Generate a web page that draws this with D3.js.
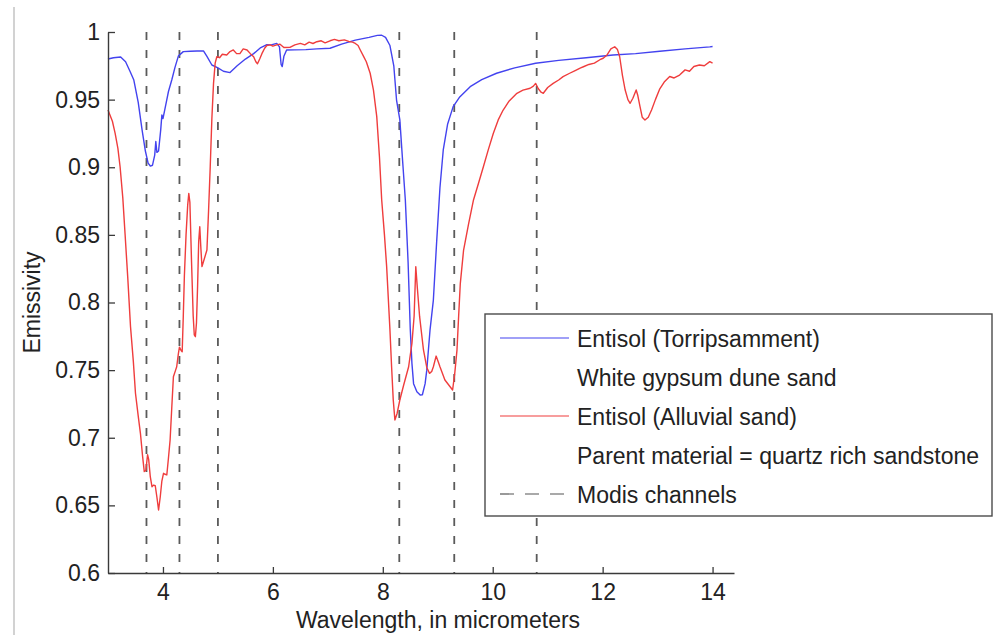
<!DOCTYPE html>
<html>
<head>
<meta charset="utf-8">
<script src="https://cdn.jsdelivr.net/npm/d3@7"></script>
<style>
  html, body { margin: 0; padding: 0; background: #fff; }
  svg { display: block; font-family: "Liberation Sans", Arial, Helvetica, sans-serif; }
</style>
</head>
<body>
<svg id="chart" width="994" height="635"></svg>
<script>
// Emissivity spectra of two Entisol sand samples, with MODIS channel positions.

// Entisol (Torripsamment), white gypsum dune sand
const torriWave = [3.00,3.10,3.23,3.32,3.40,3.47,3.55,3.62,3.68,3.73,3.77,3.81,3.85,3.87,3.89,3.92,3.96,3.98,4.00,4.05,4.10,4.16,4.22,4.28,4.37,4.50,4.62,4.74,4.80,4.89,5.00,5.10,5.22,5.35,5.50,5.65,5.78,5.89,5.97,6.07,6.12,6.15,6.17,6.20,6.25,6.40,6.60,6.80,7.04,7.25,7.50,7.75,7.90,7.98,8.05,8.13,8.20,8.25,8.31,8.36,8.41,8.46,8.50,8.53,8.56,8.62,8.68,8.72,8.77,8.80,8.86,8.92,8.98,9.04,9.10,9.18,9.28,9.40,9.59,9.80,10.07,10.40,10.78,11.20,11.70,12.19,12.60,13.04,13.50,13.95,14.00];
const torriEmis = [0.980,0.981,0.9815,0.978,0.971,0.9645,0.948,0.9276,0.912,0.903,0.9009,0.9015,0.909,0.919,0.911,0.912,0.928,0.9386,0.936,0.946,0.956,0.9645,0.974,0.9822,0.9855,0.9858,0.986,0.9859,0.982,0.9756,0.9735,0.971,0.9700,0.975,0.980,0.984,0.9885,0.9906,0.9905,0.9916,0.989,0.976,0.9744,0.982,0.9867,0.9868,0.987,0.9875,0.988,0.991,0.994,0.996,0.9975,0.9976,0.996,0.990,0.975,0.9497,0.935,0.905,0.8758,0.83,0.78,0.755,0.740,0.734,0.7316,0.7318,0.740,0.750,0.78,0.8018,0.845,0.885,0.9128,0.932,0.9448,0.952,0.9596,0.9648,0.9695,0.9735,0.9769,0.979,0.981,0.983,0.984,0.9858,0.9875,0.989,0.9893];

// Entisol (Alluvial sand), parent material = quartz rich sandstone
const alluvWave = [3.00,3.08,3.13,3.18,3.22,3.27,3.31,3.36,3.41,3.46,3.50,3.55,3.59,3.63,3.66,3.69,3.72,3.74,3.77,3.80,3.83,3.86,3.89,3.92,3.95,3.98,4.01,4.04,4.07,4.10,4.13,4.16,4.19,4.23,4.25,4.28,4.30,4.33,4.35,4.37,4.39,4.42,4.45,4.47,4.49,4.52,4.55,4.57,4.59,4.61,4.63,4.65,4.67,4.69,4.71,4.75,4.80,4.83,4.86,4.89,4.92,4.95,4.98,5.03,5.08,5.16,5.22,5.28,5.34,5.40,5.46,5.53,5.59,5.65,5.69,5.72,5.76,5.80,5.85,5.89,5.95,6.00,6.07,6.13,6.20,6.31,6.40,6.50,6.58,6.66,6.73,6.80,6.88,6.95,7.04,7.12,7.20,7.30,7.38,7.45,7.50,7.55,7.59,7.65,7.70,7.77,7.83,7.89,7.94,7.98,8.03,8.07,8.13,8.16,8.19,8.22,8.26,8.31,8.38,8.47,8.53,8.57,8.60,8.63,8.67,8.74,8.80,8.85,8.89,8.92,8.97,9.01,9.04,9.13,9.20,9.27,9.31,9.35,9.38,9.41,9.47,9.56,9.65,9.74,9.83,9.92,10.01,10.10,10.19,10.30,10.44,10.55,10.68,10.74,10.78,10.83,10.88,10.92,11.00,11.10,11.20,11.28,11.40,11.50,11.60,11.65,11.75,11.85,11.95,12.01,12.08,12.15,12.22,12.27,12.31,12.36,12.41,12.46,12.50,12.55,12.61,12.64,12.68,12.72,12.77,12.83,12.89,12.96,13.04,13.12,13.22,13.30,13.40,13.50,13.58,13.66,13.76,13.85,13.95,14.00];
const alluvEmis = [0.9423,0.934,0.925,0.914,0.9004,0.877,0.851,0.818,0.782,0.757,0.7329,0.716,0.7033,0.686,0.675,0.676,0.6875,0.684,0.671,0.6638,0.6650,0.6645,0.656,0.6466,0.656,0.668,0.6737,0.673,0.6725,0.685,0.6983,0.722,0.7451,0.750,0.7525,0.762,0.767,0.7645,0.7636,0.790,0.820,0.850,0.872,0.8807,0.874,0.830,0.790,0.776,0.7747,0.785,0.812,0.845,0.856,0.840,0.8265,0.832,0.8388,0.868,0.9004,0.936,0.962,0.977,0.9817,0.981,0.9835,0.983,0.9855,0.9867,0.984,0.984,0.9875,0.9867,0.984,0.9817,0.978,0.9765,0.980,0.984,0.988,0.990,0.9905,0.9895,0.9905,0.991,0.9885,0.9886,0.9905,0.9916,0.9905,0.9925,0.9915,0.9928,0.9935,0.992,0.9935,0.9945,0.9935,0.9942,0.993,0.9925,0.9915,0.990,0.9867,0.982,0.978,0.9695,0.957,0.9374,0.907,0.8758,0.85,0.8265,0.7797,0.7525,0.728,0.7131,0.718,0.7279,0.739,0.7525,0.7698,0.790,0.8265,0.810,0.7895,0.7649,0.752,0.7476,0.749,0.7525,0.7604,0.756,0.7525,0.7427,0.739,0.7353,0.748,0.765,0.79,0.814,0.8388,0.858,0.8758,0.888,0.9004,0.913,0.925,0.935,0.9423,0.949,0.9547,0.957,0.9584,0.960,0.962,0.958,0.9555,0.9547,0.959,0.962,0.9645,0.967,0.9695,0.9715,0.9735,0.9743,0.976,0.977,0.9795,0.9806,0.983,0.9875,0.9891,0.987,0.9817,0.968,0.9571,0.950,0.9473,0.951,0.9571,0.953,0.9448,0.937,0.9349,0.937,0.9423,0.950,0.958,0.963,0.9671,0.966,0.9682,0.972,0.971,0.9745,0.9756,0.975,0.9781,0.977];

// MODIS channel centre wavelengths (micrometers)
const modisChannels = [3.7, 4.3, 5.0, 8.3, 9.3, 10.8];

// Axis ticks
const xTicks = [4, 6, 8, 10, 12, 14];
const yTicks = [0.6, 0.65, 0.7, 0.75, 0.8, 0.85, 0.9, 0.95, 1];

// Legend entries
const legendLabels = [
  "Entisol (Torripsamment)",
  "White gypsum dune sand",
  "Entisol (Alluvial sand)",
  "Parent material = quartz rich sandstone",
  "Modis channels"
];

const svg = d3.select("#chart");
const plot = { left: 108, right: 734, top: 32, bottom: 573 };

const x = d3.scaleLinear().domain([3, 14.39]).range([plot.left, plot.right]);
const y = d3.scaleLinear().domain([0.6, 1]).range([plot.bottom, plot.top]);

const axisColor = "#3a3a3a";
const textColor = "#222";
const fontSize = 23;

// thin grey frame line at the left edge of the figure
svg.append("line")
  .attr("x1", 14).attr("x2", 14).attr("y1", 7).attr("y2", 635)
  .attr("stroke", "#d2d2d2").attr("stroke-width", 2);

// MODIS channel markers
svg.append("g").selectAll("line").data(modisChannels).join("line")
  .attr("x1", d => x(d)).attr("x2", d => x(d))
  .attr("y1", y(1)).attr("y2", y(0.6))
  .attr("stroke", "#5a5a5a").attr("stroke-width", 1.8)
  .attr("stroke-dasharray", "8,10");

// spectra
const line = d3.line().x(d => x(d[0])).y(d => y(d[1]));
const torri = torriWave.map((w, i) => [w, torriEmis[i]]);
const alluv = alluvWave.map((w, i) => [w, alluvEmis[i]]);

svg.append("path").datum(torri).attr("d", line)
  .attr("fill", "none").attr("stroke", "#4343ef").attr("stroke-width", 1.4)
  .attr("stroke-linejoin", "round");
svg.append("path").datum(alluv).attr("d", line)
  .attr("fill", "none").attr("stroke", "#ef3d3d").attr("stroke-width", 1.4)
  .attr("stroke-linejoin", "round");

// axes (ticks point inward)
const xAxis = svg.append("g").attr("transform", `translate(0,${plot.bottom})`)
  .call(d3.axisBottom(x).tickValues(xTicks).tickSizeInner(-6).tickSizeOuter(0).tickPadding(11).tickFormat(d3.format("d")));
const yAxis = svg.append("g").attr("transform", `translate(${plot.left},0)`)
  .call(d3.axisLeft(y).tickValues(yTicks).tickSizeInner(-7).tickSizeOuter(0).tickPadding(8).tickFormat(d => d3.format("")(+d.toFixed(2))));

[xAxis, yAxis].forEach(g => {
  g.select(".domain").attr("stroke", axisColor).attr("stroke-width", 1.4);
  g.selectAll(".tick line").attr("stroke", axisColor).attr("stroke-width", 1.3);
  g.selectAll(".tick text").attr("fill", textColor).attr("font-size", fontSize)
    .attr("font-family", "Liberation Sans, Arial, sans-serif");
});
xAxis.selectAll(".tick text").attr("dy", "0.71em");

// axis titles
svg.append("text")
  .attr("x", (plot.left + 768) / 2).attr("y", 628)
  .attr("text-anchor", "middle").attr("font-size", fontSize).attr("fill", textColor)
  .text("Wavelength, in micrometers");
svg.append("text")
  .attr("transform", `translate(40,${(plot.top + plot.bottom) / 2}) rotate(-90)`)
  .attr("text-anchor", "middle").attr("font-size", fontSize).attr("fill", textColor)
  .text("Emissivity");

// legend
const legend = svg.append("g");
legend.append("rect")
  .attr("x", 485).attr("y", 314).attr("width", 507).attr("height", 202)
  .attr("fill", "#fff").attr("stroke", "#4a4a4a").attr("stroke-width", 1.4);

const rowY = [338, 377, 416, 455, 494];
const sampleStyle = [
  { stroke: "#4343ef", dash: null, width: 1.2 },
  null,
  { stroke: "#ef3d3d", dash: null, width: 1.2 },
  null,
  { stroke: "#555", dash: "14,11", width: 1.2 }
];
legendLabels.forEach((label, i) => {
  const s = sampleStyle[i];
  if (s) {
    legend.append("line")
      .attr("x1", 500).attr("x2", 569).attr("y1", rowY[i]).attr("y2", rowY[i])
      .attr("stroke", s.stroke).attr("stroke-width", s.width)
      .attr("stroke-dasharray", s.dash);
  }
  legend.append("text")
    .attr("x", 577).attr("y", rowY[i] + 8.5)
    .attr("font-size", fontSize).attr("fill", textColor)
    .text(label);
});
</script>
</body>
</html>
